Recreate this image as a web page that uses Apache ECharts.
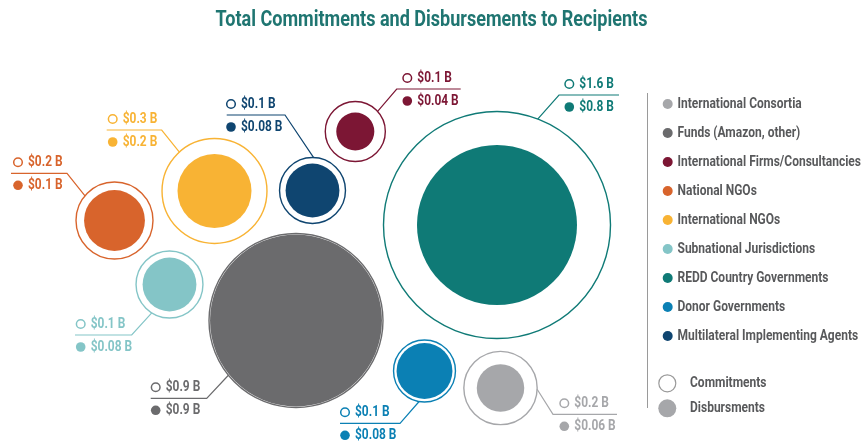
<!DOCTYPE html>
<html>
<head>
<meta charset="utf-8">
<script src="https://cdn.jsdelivr.net/npm/echarts@6/dist/echarts.min.js"></script>
<style>
  html, body { margin: 0; padding: 0; background: #fff; }
  #chart { width: 863px; height: 444px; }
</style>
</head>
<body>
<div id="chart"></div>
<script>
// recipients, in legend order
let categories = ['International Consortia', 'Funds (Amazon, other)', 'International Firms/Consultancies',
  'National NGOs', 'International NGOs', 'Subnational Jurisdictions', 'REDD Country Governments',
  'Donor Governments', 'Multilateral Implementing Agents']
// US$ billions
let commitments = [0.167, 0.94, 0.112, 0.184, 0.342, 0.139, 1.6, 0.119, 0.135]
let disbursements = [0.07, 0.918, 0.045, 0.115, 0.17, 0.09, 0.795, 0.097, 0.09]
// value labels as printed
let commitLabels = ['$0.2 B', '$0.9 B', '$0.1 B', '$0.2 B', '$0.3 B', '$0.1 B', '$1.6 B', '$0.1 B', '$0.1 B']
let disbLabels = ['$0.06 B', '$0.9 B', '$0.04 B', '$0.1 B', '$0.2 B', '$0.08 B', '$0.8 B', '$0.08 B', '$0.08 B']
// bubble centres (packed layout)
let centerX = [500.5, 296, 355.3, 114.5, 214.5, 169.5, 497, 424.5, 312.5]
let centerY = [388, 320.5, 131.5, 220.5, 191, 284.5, 225, 371, 190.5]

let colors = ['#a6a7aa', '#6b6b6d', '#7c1634', '#d8642c', '#f8b334', '#84c5c7', '#0f7a76', '#0b80b4', '#0f4570']

// label callouts: icon x, underline y, underline ends, which end the leader joins, leader angle on circle
let callout = [
  {x: 564.3, y: 414.3, x0: 553, x1: 617, joinLeft: true, angle: 2},
  {x: 155.7, y: 398.3, x0: 150.7, x1: 206.7, joinLeft: false, angle: 141},
  {x: 407.3, y: 89, x0: 396.7, x1: 460.7, joinLeft: true, angle: -42},
  {x: 18, y: 173.3, x0: 11, x1: 67, joinLeft: false, angle: -140},
  {x: 112.7, y: 130, x0: 106.7, x1: 161.7, joinLeft: false, angle: -132},
  {x: 80.7, y: 335, x0: 75, x1: 131.7, joinLeft: false, angle: 122},
  {x: 569.3, y: 95, x0: 559, x1: 619, joinLeft: true, angle: -69},
  {x: 345, y: 423.3, x0: 340, x1: 400, joinLeft: false, angle: 100},
  {x: 231, y: 115, x0: 226.7, x1: 285, joinLeft: false, angle: -88}
]

const FONT = "Roboto, 'DejaVu Sans', sans-serif"
const maxR = 113.5
const maxV = Math.max(...commitments)
const rScale = (v) => maxR * Math.sqrt(v / maxV)

// condensed look: plain bold text squeezed horizontally
function narrowText (text, x, y, fill, size, sx) {
  return {
    type: 'text',
    x: x,
    y: y,
    scaleX: sx,
    style: {text: text, x: 0, y: 0, fill: fill, font: 'bold ' + size + 'px ' + FONT, align: 'left', verticalAlign: 'middle'}
  }
}

function renderBubble (params, api) {
  let i = params.seriesIndex
  let color = colors[i]
  let c = api.coord([api.value(0), api.value(1)])
  let r1 = rScale(api.value(2))
  let r2 = rScale(api.value(3))
  let co = callout[i]
  let p0 = api.coord([co.x0, co.y])
  let p1 = api.coord([co.x1, co.y])
  let join = co.joinLeft ? p0 : p1
  let a = co.angle * Math.PI / 180
  let edge = [c[0] + r1 * Math.cos(a), c[1] + r1 * Math.sin(a)]
  let icon = api.coord([co.x, co.y])
  return {
    type: 'group',
    children: [
      {type: 'circle', shape: {cx: c[0], cy: c[1], r: r1}, style: {fill: '#fff', stroke: color, lineWidth: 1.4}},
      {type: 'circle', shape: {cx: c[0], cy: c[1], r: r2}, style: {fill: color}},
      {type: 'polyline', shape: {points: [co.joinLeft ? p1 : p0, join, edge]}, style: {fill: null, stroke: color, lineWidth: 1.2}},
      {type: 'circle', shape: {cx: icon[0], cy: icon[1] - 11, r: 4.3}, style: {fill: '#fff', stroke: color, lineWidth: 1.5}},
      {type: 'circle', shape: {cx: icon[0], cy: icon[1] + 12, r: 4.8}, style: {fill: color}},
      narrowText(commitLabels[i], icon[0] + 10, icon[1] - 11, color, 15.5, 0.77),
      narrowText(disbLabels[i], icon[0] + 10, icon[1] + 12, color, 15.5, 0.77)
    ]
  }
}

let series = categories.map((name, i) => ({
  name: name,
  type: 'custom',
  coordinateSystem: 'cartesian2d',
  clip: false,
  silent: true,
  itemStyle: {color: colors[i]},
  renderItem: renderBubble,
  data: [[centerX[i], centerY[i], commitments[i], disbursements[i]]]
}))

// key on the right
let keyItems = [{type: 'line', shape: {x1: 647.5, y1: 93, x2: 647.5, y2: 408}, style: {stroke: '#9a9a9a', lineWidth: 1}}]
categories.forEach((name, i) => {
  let y = 104 + 29 * i
  keyItems.push({type: 'circle', shape: {cx: 667.7, cy: y, r: 5}, style: {fill: colors[i]}})
  keyItems.push(narrowText(name, 677.5, y, '#58595b', 15, 0.8))
})
keyItems.push({type: 'circle', shape: {cx: 667.3, cy: 383.3, r: 8.5}, style: {fill: '#fff', stroke: '#9a9a9a', lineWidth: 1.2}})
keyItems.push(narrowText('Commitments', 690, 383.3, '#58595b', 15, 0.8))
keyItems.push({type: 'circle', shape: {cx: 667.3, cy: 408.3, r: 9}, style: {fill: '#a6a7aa'}})
keyItems.push(narrowText('Disbursments', 690, 408.3, '#58595b', 15, 0.8))

// title, squeezed about its centre
keyItems.push({
  type: 'text',
  x: 431.5,
  y: 20.5,
  scaleX: 0.82,
  style: {text: 'Total Commitments and Disbursements to Recipients', x: 0, y: 0, fill: '#1f7571',
    font: 'bold 22px ' + FONT, align: 'center', verticalAlign: 'middle'}
})

let myChart = echarts.init(document.getElementById('chart'))
myChart.setOption({
  animation: false,
  grid: {left: 0, right: 0, top: 0, bottom: 0},
  xAxis: {type: 'value', min: 0, max: 863, show: false},
  yAxis: {type: 'value', min: 0, max: 444, inverse: true, show: false},
  graphic: keyItems,
  series: series
})
</script>
</body>
</html>
